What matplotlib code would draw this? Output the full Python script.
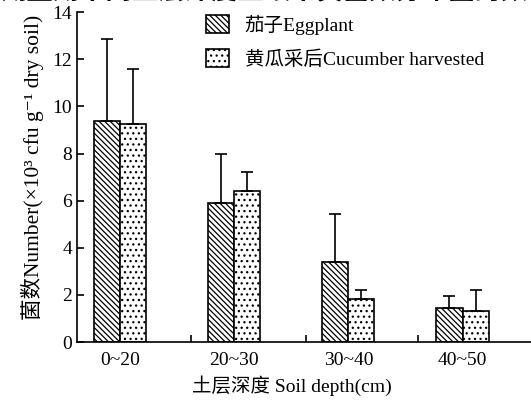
import matplotlib.pyplot as plt
import numpy as np

plt.rcParams['font.family'] = ['Liberation Serif', 'Noto Sans CJK SC', 'DejaVu Sans']
plt.rcParams['hatch.linewidth'] = 0.9

# Дані
depths = ['0~20', '20~30', '30~40', '40~50']
eggplant = [9.4, 5.9, 3.38, 1.46]
eggplant_err = [3.45, 2.1, 2.05, 0.5]
cucumber = [9.25, 6.4, 1.82, 1.31]
cucumber_err = [2.33, 0.8, 0.38, 0.9]

fig = plt.figure(figsize=(5.31, 4.03), dpi=100)
ax = fig.add_axes([0.145, 0.151, 0.855, 0.819])

x = np.arange(len(depths))
w = 0.228

ax.bar(x - w / 2, eggplant, w, yerr=[np.zeros(4), eggplant_err], capsize=4.5,
       color='white', edgecolor='black', linewidth=1.2, hatch='\\\\\\\\\\\\',
       error_kw=dict(elinewidth=1.2, capthick=1.2), label='茄子Eggplant')
ax.bar(x + w / 2, cucumber, w, yerr=[np.zeros(4), cucumber_err], capsize=4.5,
       color='white', edgecolor='black', linewidth=1.2, hatch='...',
       error_kw=dict(elinewidth=1.2, capthick=1.2), label='黄瓜采后Cucumber harvested')

# Осі
ax.set_xlim(-0.377, 3.6)
ax.set_ylim(0, 14)
ax.spines['top'].set_visible(False)
ax.spines['right'].set_visible(False)
ax.spines['left'].set_linewidth(1.2)
ax.spines['bottom'].set_linewidth(1.2)
ax.set_yticks(range(0, 15, 2))
ax.set_xticks(x)
ax.set_xticklabels(depths)
ax.set_xticks([0.62, 1.63, 2.61], minor=True)
ax.tick_params(axis='y', direction='in', length=5, width=1.2, labelsize=14)
ax.tick_params(axis='x', which='major', length=0, labelsize=14, pad=7)
ax.tick_params(axis='x', which='minor', direction='in', length=5, width=1.2)

ax.set_xlabel('土层深度 Soil depth(cm)', fontsize=14, labelpad=5)
ax.xaxis.label.set_position((0.474, 0))
ax.set_ylabel('菌数Number(×10³ cfu g⁻¹ dry soil)', fontsize=15.5, labelpad=6)
ax.yaxis.label.set_position((0, 0.53))

ax.legend(loc='upper left', bbox_to_anchor=(0.245, 1.045), frameon=False, fontsize=14,
          handlelength=1.2, handleheight=1.0, labelspacing=0.75, handletextpad=0.8)

fig.text(0.0, 1.02, '期盆期不同土层深度土壤中真菌数分布图的数', fontsize=19, weight='bold',
         family=['Noto Sans CJK SC'], va='center', ha='left')

fig.savefig('out.png', dpi=100)
